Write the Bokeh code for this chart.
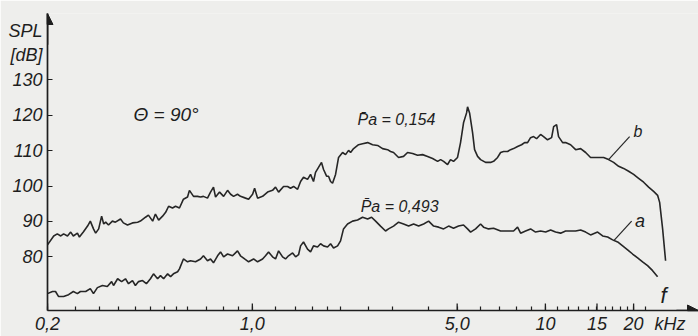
from bokeh.plotting import figure
from bokeh.models import Range1d, FixedTicker, Label, Arrow, NormalHead
from bokeh.embed import file_html
from bokeh.resources import INLINE

# ---- data (frequency in kHz, SPL in dB) ----
freq_b = [0.200, 0.210, 0.216, 0.222, 0.227, 0.234, 0.240, 0.245, 0.253, 0.257,
          0.265, 0.274, 0.280, 0.287, 0.292, 0.299, 0.306, 0.311, 0.316, 0.323,
          0.333, 0.341, 0.355, 0.363, 0.375, 0.390, 0.406, 0.415, 0.432, 0.442,
          0.457, 0.467, 0.479, 0.494, 0.506, 0.518, 0.534, 0.547, 0.564, 0.582,
          0.601, 0.610, 0.630, 0.650, 0.666, 0.681, 0.703, 0.720, 0.737, 0.749,
          0.773, 0.798, 0.823, 0.843, 0.863, 0.890, 0.911, 0.948, 0.971, 1.002,
          1.018, 1.042, 1.084, 1.127, 1.172, 1.200, 1.229, 1.278, 1.319, 1.350,
          1.383, 1.427, 1.461, 1.495, 1.543, 1.580, 1.617, 1.643, 1.682, 1.722,
          1.750, 1.792, 1.820, 1.849, 1.878, 1.923, 1.969, 2.032, 2.080, 2.130,
          2.164, 2.216, 2.304, 2.378, 2.474, 2.572, 2.676, 2.782, 2.894, 2.962,
          3.033, 3.155, 3.281, 3.386, 3.522, 3.663, 3.810, 3.963, 4.122, 4.288,
          4.390, 4.494, 4.637, 4.746, 4.859, 5.014, 5.134, 5.256, 5.383, 5.425,
          5.512, 5.643, 5.733, 5.870, 6.010, 6.250, 6.500, 6.655, 6.869, 7.034,
          7.200, 7.430, 7.607, 7.788, 8.036, 8.293, 8.491, 8.693, 8.901, 9.113,
          9.330, 9.628, 9.858, 10.17, 10.50, 10.67, 10.92, 11.09, 11.45, 11.72,
          12.19, 12.68, 13.19, 13.72, 14.26, 15.07, 15.80, 16.43, 17.09, 17.78,
          18.49, 19.23, 20.00, 20.80, 21.64, 22.50, 23.40, 24.15, 24.54, 25.12,
          25.71]
spl_b = [83.4, 85.9, 86.5, 85.9, 86.5, 85.9, 87.0, 85.9, 86.7, 85.6,
         87.0, 88.7, 90.1, 87.9, 86.7, 87.9, 91.5, 89.3, 89.8, 89.0,
         90.1, 89.8, 90.7, 89.6, 89.0, 89.6, 89.8, 90.1, 91.2, 91.8,
         90.1, 92.1, 90.4, 91.5, 92.6, 94.3, 93.8, 94.3, 93.8, 96.3,
         96.9, 98.8, 97.1, 97.1, 96.9, 97.1, 96.6, 98.3, 99.7, 96.9,
         98.3, 97.1, 98.8, 97.7, 97.1, 97.7, 97.1, 96.6, 96.3, 97.7,
         99.4, 96.6, 97.1, 98.3, 98.8, 99.7, 98.3, 99.9, 99.9, 99.4,
         99.9, 99.1, 101.3, 102.5, 101.9, 103.3, 101.3, 103.9, 105.3, 106.7,
         104.7, 102.8, 102.8, 101.3, 100.8, 103.3, 108.1, 109.5, 108.9, 110.1,
         109.5, 110.6, 111.7, 112.0, 112.3, 111.7, 111.5, 110.6, 110.3, 109.8,
         109.5, 108.1, 108.4, 109.5, 109.2, 108.7, 108.9, 108.4, 107.8, 107.0,
         107.5, 107.0, 106.1, 107.5, 107.0, 108.1, 112.3, 117.9, 120.7, 122.4,
         120.7, 115.1, 110.3, 108.4, 107.5, 106.7, 106.7, 107.0, 108.1, 109.5,
         109.8, 109.8, 110.3, 110.6, 111.2, 111.7, 112.3, 112.3, 113.7, 114.0,
         113.4, 114.6, 114.0, 113.1, 113.7, 116.8, 117.4, 114.0, 112.3, 112.3,
         111.7, 110.3, 110.6, 109.5, 108.1, 108.1, 108.1, 107.5, 106.7, 105.6,
         105.0, 104.2, 103.3, 102.2, 101.1, 99.7, 98.5, 97.4, 95.4, 87.9,
         78.9]

freq_a = [0.200, 0.208, 0.213, 0.218, 0.227, 0.236, 0.245, 0.253, 0.259, 0.270,
          0.280, 0.287, 0.296, 0.308, 0.320, 0.331, 0.336, 0.347, 0.358, 0.369,
          0.378, 0.390, 0.399, 0.409, 0.422, 0.435, 0.449, 0.460, 0.475, 0.486,
          0.498, 0.514, 0.526, 0.538, 0.556, 0.564, 0.582, 0.601, 0.615, 0.640,
          0.666, 0.681, 0.703, 0.720, 0.737, 0.761, 0.779, 0.798, 0.823, 0.856,
          0.890, 0.911, 0.941, 0.971, 1.010, 1.042, 1.084, 1.109, 1.136, 1.172,
          1.200, 1.229, 1.268, 1.298, 1.329, 1.372, 1.405, 1.438, 1.461, 1.495,
          1.543, 1.580, 1.617, 1.669, 1.709, 1.750, 1.806, 1.849, 1.893, 1.954,
          2.000, 2.047, 2.113, 2.198, 2.286, 2.378, 2.474, 2.552, 2.634, 2.738,
          2.848, 2.916, 3.033, 3.155, 3.281, 3.414, 3.551, 3.693, 3.841, 3.995,
          4.155, 4.322, 4.494, 4.675, 4.859, 5.054, 5.256, 5.425, 5.556, 5.779,
          6.010, 6.152, 6.399, 6.655, 7.034, 7.430, 7.788, 8.036, 8.230, 8.558,
          8.901, 9.256, 9.628, 10.02, 10.42, 10.83, 11.27, 11.72, 12.19, 12.68,
          13.19, 13.72, 14.26, 15.07, 15.68, 16.31, 16.96, 17.64, 18.35, 19.08,
          19.84, 20.64, 21.46, 22.32, 23.22, 24.15]
spl_a = [69.6, 70.2, 70.2, 68.8, 68.8, 69.3, 70.2, 69.6, 70.2, 70.2,
         71.0, 69.6, 71.3, 71.9, 71.6, 73.0, 71.9, 73.8, 73.0, 73.8,
         72.4, 73.3, 71.9, 73.0, 73.3, 72.4, 73.8, 75.2, 73.8, 74.7,
         73.8, 75.2, 74.4, 75.2, 75.8, 76.6, 79.4, 78.6, 78.9, 78.6,
         79.4, 80.3, 78.9, 79.4, 78.3, 80.3, 81.4, 80.0, 80.8, 80.3,
         81.7, 80.3, 79.4, 78.6, 79.4, 78.6, 79.4, 80.3, 81.4, 80.0,
         79.4, 81.7, 80.0, 79.4, 80.3, 81.1, 80.0, 80.6, 83.1, 84.2,
         82.2, 81.4, 83.1, 82.8, 83.7, 83.1, 82.8, 83.7, 82.5, 83.1,
         84.5, 87.9, 89.3, 90.1, 90.4, 91.2, 90.7, 91.2, 90.1, 88.7,
         87.3, 87.9, 88.7, 89.8, 89.3, 88.7, 89.3, 88.7, 89.3, 90.1,
         88.7, 88.4, 87.9, 88.7, 88.1, 88.7, 89.0, 87.9, 87.0, 87.9,
         89.3, 88.4, 87.9, 88.1, 87.3, 87.3, 87.3, 88.4, 86.7, 87.3,
         87.9, 87.0, 87.3, 87.0, 87.6, 87.0, 86.7, 87.3, 87.3, 87.3,
         87.6, 87.0, 86.2, 87.0, 85.9, 85.6, 84.8, 84.2, 83.1, 82.0,
         80.8, 79.7, 78.6, 77.5, 76.1, 74.4]

y_ticks = [80, 90, 100, 110, 120, 130]
x_ticks = [0.2, 1, 5, 10, 15, 20]
x_tick_labels = ["0,2", "1,0", "5,0", "10", "15", "20"]
x_minor_ticks = [0.25, 0.3, 0.35, 0.4, 0.45, 0.5, 0.55, 0.6, 0.7, 0.8, 0.9,
                 1.2, 1.4, 1.6, 1.8, 2, 2.5, 3, 4, 6, 7, 8, 9,
                 11, 12, 13, 14, 16, 17, 18, 19, 22]
# axis titles placed in the tick-label rows
y_title_pos = [137.0, 143.8]
y_title_text = ["[dB]", "SPL"]
x_unit_pos = 26.6
x_unit_text = "kHz"

FONT = "Liberation Sans"
INK = "#1e1e1e"
LINE = "#262626"
BG = "#eeeeec"
Y0, Y1 = 64.83, 148.8

p = figure(width=698, height=336, x_axis_type="log",
           x_range=Range1d(0.2, 33.3), y_range=Range1d(Y0, Y1),
           output_backend="svg", toolbar_location=None,
           min_border_left=47, min_border_right=0,
           min_border_top=13, min_border_bottom=24)
p.background_fill_color = BG
p.border_fill_color = BG
p.outline_line_color = None
p.xgrid.visible = False
p.ygrid.visible = False

for ax in (p.xaxis[0], p.yaxis[0]):
    ax.axis_line_color = INK
    ax.axis_line_width = 1.7
    ax.major_tick_out = 0
    ax.major_tick_in = 0
    ax.minor_tick_out = 0
    ax.minor_tick_line_color = INK
    ax.minor_tick_line_width = 1.2
    ax.major_label_text_font = FONT
    ax.major_label_text_font_style = "italic"
    ax.major_label_text_font_size = "18px"
    ax.major_label_text_color = INK

# x axis: labelled ticks (plus unit) as majors, tick marks as minors
p.xaxis.ticker = FixedTicker(ticks=x_ticks + [x_unit_pos], minor_ticks=x_minor_ticks + x_ticks)
p.xaxis.major_label_overrides = dict(zip(x_ticks + [x_unit_pos], x_tick_labels + [x_unit_text]))
p.xaxis.minor_tick_in = 4
p.xaxis.major_label_standoff = 3

# y axis: numbers plus axis title rows; tick marks as minors
p.yaxis.ticker = FixedTicker(ticks=y_ticks + y_title_pos, minor_ticks=y_ticks)
p.yaxis.major_label_overrides = dict(zip(y_title_pos, y_title_text))
p.yaxis.minor_tick_in = 5
p.yaxis.major_label_standoff = 5

# taller marks at the labelled frequencies
p.segment(x0=x_ticks, y0=[Y0] * len(x_ticks), x1=x_ticks, y1=[Y0 + 2.0] * len(x_ticks),
          line_color=INK, line_width=1.3)

# curves
p.line(freq_b, spl_b, line_color=LINE, line_width=1.6)
p.line(freq_a, spl_a, line_color=LINE, line_width=1.6)

# leader lines to curve labels
p.segment(x0=[16.43, 17.09], y0=[107.5, 84.5], x1=[19.38, 19.69], y1=[114.0, 90.1],
          line_color=LINE, line_width=1.2)

# axis arrows
p.add_layout(Arrow(end=NormalHead(size=11, fill_color=INK, line_color=INK),
                   x_start=0.2, y_start=140, x_end=0.2, y_end=Y1,
                   line_color=INK, line_width=1.7))
p.add_layout(Arrow(end=NormalHead(size=11, fill_color=INK, line_color=INK),
                   x_start=28, y_start=Y0, x_end=33.3, y_end=Y0,
                   line_color=INK, line_width=1.7))

def lab(x, y, text, size="17px", align="left"):
    p.add_layout(Label(x=x, y=y, text=text, text_font=FONT, text_font_style="italic",
                       text_font_size=size, text_color=INK, text_align=align,
                       text_baseline="middle"))

lab(0.393, 120.2, "Θ = 90°", size="19px")
lab(2.286, 118.8, "P\u0304a = 0,154", size="16px")
lab(2.343, 94.3, "P\u0304a = 0,493", size="16px")
lab(20.0, 115.4, "b", size="16px")
lab(20.2, 90.1, "a", size="18px")
lab(24.7, 69.0, "f", size="22px")

open("out.html", "w").write(file_html(p, INLINE))
